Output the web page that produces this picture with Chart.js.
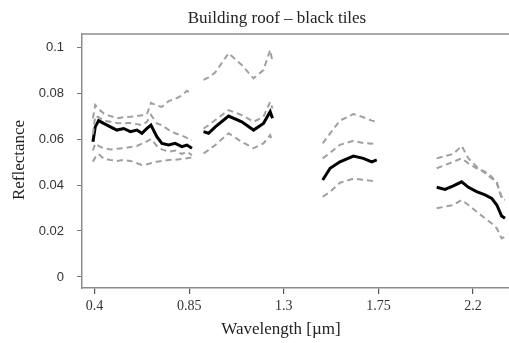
<!DOCTYPE html>
<html>
<head>
<meta charset="utf-8">
<script src="https://cdn.jsdelivr.net/npm/chart.js@4/dist/chart.umd.min.js"></script>
<style>
  html, body { margin: 0; padding: 0; background: #fff; overflow: hidden; }
  #wrap { width: 509px; height: 343px; }
</style>
</head>
<body>
<div id="wrap"><canvas id="chart"></canvas></div>
<script>
// wavelength in µm, null rows mark the water absorption gaps
var wavelength = [
  0.392, 0.403, 0.419, 0.443, 0.475, 0.506, 0.538, 0.570, 0.601, 0.625, 0.649, 0.668, 0.696, 0.720, 0.752, 0.783, 0.815, 0.839, 0.863,
  0.89,
  0.918, 0.942, 0.974, 1.037, 1.10, 1.156, 1.203, 1.235, 1.246,
  1.37,
  1.485, 1.52, 1.567, 1.631, 1.678, 1.718, 1.742,
  1.9,
  2.027, 2.067, 2.106, 2.146, 2.178, 2.217, 2.257, 2.289, 2.313, 2.336, 2.352
];

var meanRefl = [
  0.0588, 0.0653, 0.068, 0.0668, 0.0653, 0.0639, 0.0646, 0.0632, 0.0639, 0.0625, 0.0646, 0.0661, 0.061, 0.0581, 0.0574, 0.0581, 0.0567, 0.0574, 0.056,
  null,
  0.0632, 0.0625, 0.0653, 0.070, 0.0675, 0.0639, 0.0668, 0.0719, 0.069,
  null,
  0.0422, 0.0473, 0.0501, 0.0526, 0.0516, 0.0501, 0.0509,
  null,
  0.039, 0.0381, 0.0396, 0.0414, 0.039, 0.0371, 0.0357, 0.0342, 0.0313, 0.0265, 0.0255
];

var topRefl = [
  0.069, 0.0748, 0.073, 0.0712, 0.070, 0.069, 0.0695, 0.0697, 0.070, 0.0704, 0.0708, 0.0757, 0.0745, 0.074, 0.0765, 0.0775, 0.079, 0.081, 0.0795,
  null,
  0.0857, 0.0868, 0.089, 0.0973, 0.0922, 0.0864, 0.090, 0.0987, 0.0936,
  null,
  0.0581, 0.0625, 0.068, 0.0709, 0.0695, 0.068, 0.0675,
  null,
  0.0516, 0.0526, 0.0535, 0.057, 0.0516, 0.048, 0.0451, 0.0429, 0.0414, 0.0342, 0.0335
];

var upperRefl = [
  0.062, 0.070, 0.0695, 0.068, 0.0675, 0.067, 0.0668, 0.067, 0.0665, 0.066, 0.0675, 0.0705, 0.0668, 0.066, 0.064, 0.0625, 0.0615, 0.0605, 0.0596,
  null,
  0.0646, 0.066, 0.0683, 0.0726, 0.0704, 0.0675, 0.0697, 0.0762, 0.0733,
  null,
  0.0516, 0.054, 0.0575, 0.0592, 0.0583, 0.058, 0.0584,
  null,
  0.0473, 0.0487, 0.0501, 0.0516, 0.0494, 0.0473, 0.0458, 0.0436, 0.0407, 0.0349, 0.0342
];

var lowerMidRefl = [
  0.055, 0.058, 0.057, 0.056, 0.0555, 0.0558, 0.056, 0.0565, 0.057, 0.058, 0.059, 0.060, 0.057, 0.0555, 0.0545, 0.055, 0.0535, 0.0545, 0.053,
  null,
  null, null, null, null, null, null, null, null, null,
  null,
  null, null, null, null, null, null, null,
  null,
  null, null, null, null, null, null, null, null, null, null, null
];

var lowerRefl = [
  0.0501, 0.052, 0.0535, 0.0515, 0.0509, 0.0505, 0.0509, 0.0505, 0.0495, 0.0487, 0.049, 0.0495, 0.0501, 0.0505, 0.0509, 0.051, 0.0513, 0.0516, 0.052,
  null,
  0.0538, 0.0552, 0.0574, 0.0625, 0.0588, 0.056, 0.0581, 0.0617, 0.0588,
  null,
  0.0349, 0.037, 0.041, 0.0428, 0.0423, 0.0418, 0.0414,
  null,
  0.0299, 0.0306, 0.0313, 0.0335, 0.0313, 0.0284, 0.0255, 0.0233, 0.0212, 0.0168, 0.0175
];

var xTicks = [0.4, 0.85, 1.3, 1.75, 2.2];
var yTicks = [0, 0.02, 0.04, 0.06, 0.08, 0.1];

var titleText = "Building roof \u2013 black tiles";
var xTitle = "Wavelength [\u00b5m]";
var yTitle = "Reflectance";

function pts(vals) {
  return wavelength.map(function (w, i) { return { x: w, y: vals[i] }; });
}

function dashed(vals) {
  return {
    data: pts(vals),
    borderColor: '#a0a0a0',
    borderWidth: 2,
    borderDash: [6, 4],
    pointRadius: 0,
    fill: false,
    spanGaps: false
  };
}

var serif = '"Liberation Serif", serif';

// box, main title and axis titles drawn by hand so they sit where the figure has them
var frame = {
  id: 'frame',
  afterDraw: function (chart) {
    var ctx = chart.ctx;
    var a = chart.chartArea;
    ctx.save();
    ctx.strokeStyle = '#8c8c8c';
    ctx.lineWidth = 1.5;
    ctx.beginPath();
    ctx.moveTo(a.left, a.top);
    ctx.lineTo(a.right, a.top);
    ctx.stroke();

    ctx.fillStyle = '#222';
    ctx.textAlign = 'center';
    ctx.textBaseline = 'middle';
    ctx.font = '17px ' + serif;
    ctx.fillText(titleText, 277, 19);
    ctx.fillText(xTitle, 281, 330);

    ctx.translate(20, 160);
    ctx.rotate(-Math.PI / 2);
    ctx.fillText(yTitle, 0, 0);
    ctx.restore();
  }
};

new Chart(document.getElementById('chart'), {
  type: 'line',
  data: {
    datasets: [
      dashed(topRefl),
      dashed(upperRefl),
      dashed(lowerMidRefl),
      dashed(lowerRefl),
      {
        data: pts(meanRefl),
        borderColor: '#000',
        borderWidth: 3,
        pointRadius: 0,
        fill: false,
        spanGaps: false
      }
    ]
  },
  options: {
    responsive: true,
    maintainAspectRatio: false,
    animation: false,
    layout: { padding: { top: 34, left: 0, right: 0, bottom: 0 } },
    plugins: {
      legend: { display: false },
      tooltip: { enabled: false },
      title: { display: false }
    },
    scales: {
      x: {
        type: 'linear',
        min: 0.34,
        max: 2.371,
        afterBuildTicks: function (s) { s.ticks = xTicks.map(function (v) { return { value: v }; }); },
        afterFit: function (s) { s.height = 55; },
        grid: { drawOnChartArea: false, drawTicks: true, tickLength: 6, color: '#555', lineWidth: 1.2 },
        border: { display: true, color: '#8c8c8c', width: 1.5 },
        ticks: {
          padding: 4,
          maxRotation: 0,
          color: '#333',
          font: { family: serif, size: 14 },
          callback: function (v) { return String(v); }
        }
      },
      y: {
        min: -0.0048,
        max: 0.1057,
        afterBuildTicks: function (s) { s.ticks = yTicks.map(function (v) { return { value: v }; }); },
        afterFit: function (s) { s.width = 82; },
        grid: { drawOnChartArea: false, drawTicks: true, tickLength: 5, color: '#777', lineWidth: 1 },
        border: { display: true, color: '#8c8c8c', width: 1.5 },
        ticks: {
          padding: 13,
          color: '#333',
          font: { family: '"Liberation Sans", Arial, sans-serif', size: 13 },
          callback: function (v) { return String(Number(v.toFixed(2))); }
        }
      }
    }
  },
  plugins: [frame]
});
</script>
</body>
</html>
